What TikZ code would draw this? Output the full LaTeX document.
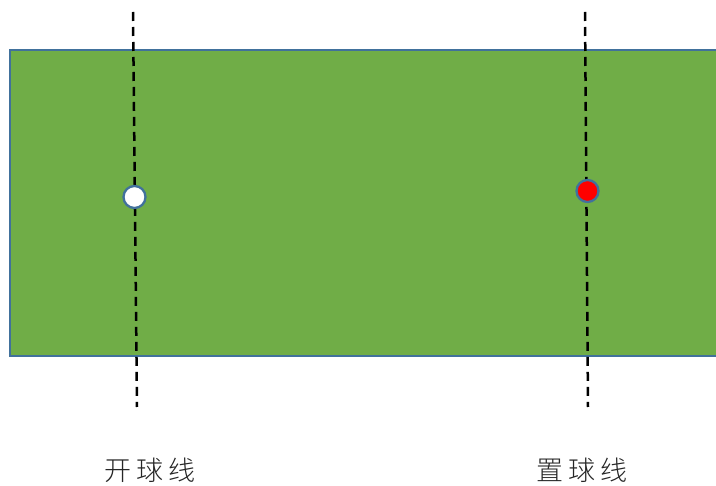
\documentclass[tikz,border=0pt]{standalone}
\usepackage{fontspec}
\newfontfamily\cjk{Noto Sans CJK SC Light}
\definecolor{fieldgreen}{HTML}{70AD47}
\definecolor{rimblue}{HTML}{41719C}
\tikzset{
	field_style/.style = {draw=rimblue, fill=fieldgreen, line width=2.8pt},
	ball_style/.style = {shape=circle, draw=rimblue, line width=2.3pt, minimum size=22pt, inner sep=0pt},
	line_style/.style = {draw=black, line width=2.5pt, dash pattern=on 9pt off 6pt},
	label_style/.style = {font=\cjk\fontsize{27}{27}\selectfont, text=black!85}
}
\begin{document}
\begin{tikzpicture}[x=1pt, y=-1pt]
	\useasboundingbox (0,0) rectangle (716,486);

	% field
	\fill[field_style, draw=none] (10,50) rectangle (720,356);
	\draw[field_style, fill=none] (730,50) -- (10,50) -- (10,356) -- (730,356);

	% end points of the lines
	\coordinate (kick_top) at (133,12);
	\coordinate (kick_bot) at (137,407);
	\coordinate (spot_top) at (585,12);
	\coordinate (spot_bot) at (588,407);

	\draw[line_style] (kick_top) -- (kick_bot);
	\draw[line_style] (spot_top) -- (spot_bot);

	% balls
	\node[ball_style, fill=white](kick_ball) at (134.5,197) {};
	\node[ball_style, fill=red](spot_ball) at (587.5,191) {};

	% labels
	\node[label_style](kick_label) at (150,470) {开\hspace{5pt}球\hspace{5pt}线};
	\node[label_style](spot_label) at (582,470) {置\hspace{5pt}球\hspace{5pt}线};
\end{tikzpicture}
\end{document}
